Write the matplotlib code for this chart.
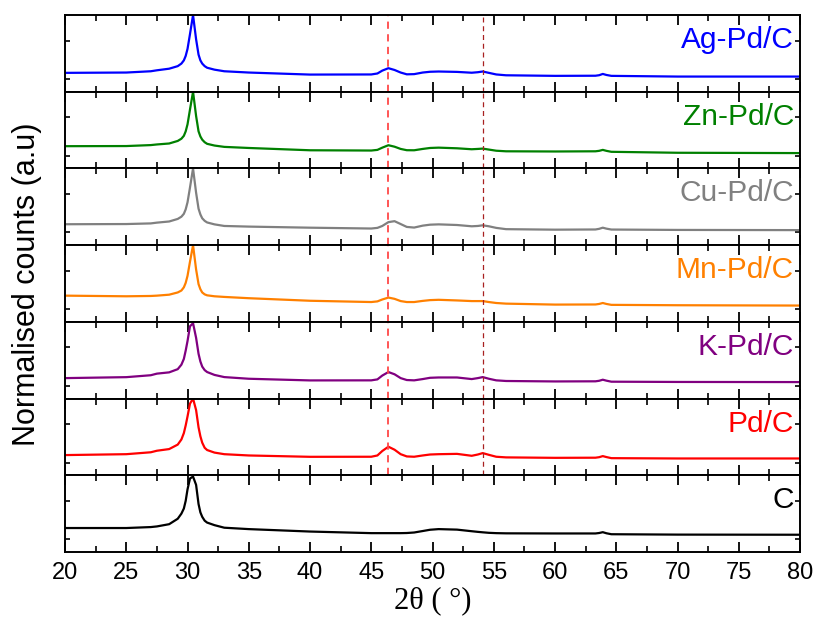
import matplotlib
matplotlib.use('Agg')
import matplotlib.pyplot as plt
from matplotlib.ticker import MultipleLocator

plt.rcParams['font.family'] = ['Liberation Sans', 'DejaVu Sans']

# 2theta sample positions
two_theta = [20, 25, 27, 27.5, 28.5, 29.2, 29.5, 29.7, 29.85, 30.0, 30.2, 30.45, 30.7, 30.9,
             31.05, 31.2, 31.4, 31.6, 32.2, 33, 35, 40, 45, 45.5, 45.9, 46.4, 46.9, 47.4,
             47.9, 48.5, 49.2, 49.8, 50.5, 52, 53.2, 53.7, 54.1, 54.6, 55.2, 56, 60, 63.3,
             63.6, 63.9, 64.2, 64.6, 70, 80]

ag_pd_c = [0.095, 0.10, 0.12, 0.135, 0.16, 0.20, 0.24, 0.29, 0.36, 0.47, 0.70, 1.0, 0.62, 0.38,
           0.29, 0.24, 0.20, 0.175, 0.145, 0.12, 0.10, 0.068, 0.07, 0.085, 0.13, 0.168, 0.14, 0.10,
           0.072, 0.075, 0.10, 0.112, 0.116, 0.11, 0.097, 0.105, 0.116, 0.095, 0.07, 0.057, 0.048, 0.05,
           0.058, 0.078, 0.062, 0.048, 0.037, 0.037]
zn_pd_c = [0.148, 0.15, 0.165, 0.175, 0.19, 0.23, 0.265, 0.31, 0.38, 0.49, 0.72, 1.0, 0.62, 0.38,
           0.30, 0.25, 0.21, 0.185, 0.158, 0.137, 0.12, 0.084, 0.08, 0.09, 0.125, 0.163, 0.14, 0.105,
           0.085, 0.084, 0.105, 0.12, 0.125, 0.115, 0.10, 0.105, 0.11, 0.095, 0.077, 0.068, 0.065, 0.068,
           0.075, 0.09, 0.075, 0.06, 0.045, 0.04]
cu_pd_c = [0.127, 0.13, 0.14, 0.152, 0.17, 0.21, 0.245, 0.29, 0.36, 0.47, 0.70, 1.0, 0.62, 0.37,
           0.28, 0.22, 0.18, 0.155, 0.125, 0.10, 0.09, 0.073, 0.06, 0.07, 0.10, 0.16, 0.175, 0.13,
           0.085, 0.075, 0.105, 0.12, 0.125, 0.115, 0.095, 0.10, 0.11, 0.095, 0.07, 0.05, 0.042, 0.045,
           0.055, 0.073, 0.058, 0.044, 0.038, 0.035]
mn_pd_c = [0.21, 0.20, 0.205, 0.21, 0.225, 0.26, 0.29, 0.34, 0.41, 0.52, 0.74, 1.0, 0.62, 0.39,
           0.31, 0.26, 0.23, 0.215, 0.20, 0.19, 0.17, 0.13, 0.11, 0.12, 0.15, 0.18, 0.16, 0.125,
           0.11, 0.11, 0.128, 0.14, 0.145, 0.135, 0.125, 0.125, 0.125, 0.11, 0.095, 0.085, 0.07, 0.072,
           0.08, 0.095, 0.08, 0.066, 0.06, 0.055]
k_pd_c = [0.12, 0.135, 0.165, 0.19, 0.21, 0.26, 0.33, 0.42, 0.55, 0.70, 0.93, 0.98, 0.75, 0.50,
          0.38, 0.30, 0.245, 0.215, 0.17, 0.136, 0.11, 0.084, 0.085, 0.10, 0.16, 0.215, 0.18, 0.12,
          0.09, 0.085, 0.105, 0.125, 0.13, 0.13, 0.105, 0.12, 0.136, 0.11, 0.085, 0.075, 0.068, 0.07,
          0.078, 0.095, 0.08, 0.064, 0.06, 0.058]
pd_c = [0.116, 0.13, 0.16, 0.184, 0.21, 0.28, 0.36, 0.46, 0.58, 0.72, 0.92, 1.0, 0.82, 0.55,
        0.41, 0.31, 0.23, 0.195, 0.155, 0.13, 0.11, 0.089, 0.09, 0.11, 0.18, 0.247, 0.20, 0.13,
        0.095, 0.09, 0.11, 0.125, 0.13, 0.135, 0.105, 0.125, 0.147, 0.12, 0.09, 0.08, 0.073, 0.075,
        0.083, 0.10, 0.085, 0.068, 0.063, 0.063]
carbon = [0.175, 0.175, 0.19, 0.20, 0.235, 0.32, 0.40, 0.48, 0.60, 0.78, 0.95, 0.98, 0.85, 0.55,
          0.42, 0.35, 0.29, 0.26, 0.22, 0.18, 0.158, 0.12, 0.095, 0.095, 0.095, 0.095, 0.095, 0.095,
          0.097, 0.105, 0.128, 0.148, 0.158, 0.15, 0.125, 0.115, 0.108, 0.10, 0.095, 0.092, 0.09, 0.09,
          0.097, 0.11, 0.093, 0.078, 0.072, 0.07]

names = ['Ag-Pd/C', 'Zn-Pd/C', 'Cu-Pd/C', 'Mn-Pd/C', 'K-Pd/C', 'Pd/C', 'C']
series = [ag_pd_c, zn_pd_c, cu_pd_c, mn_pd_c, k_pd_c, pd_c, carbon]
colors = ['#0000FF', '#008000', '#808080', '#FF8000', '#800080', '#FF0000', '#000000']

# reference peak positions (dashed lines)
ref_lines = [46.4, 54.1]

fig, axes = plt.subplots(7, 1, sharex=True, figsize=(8.19, 6.25), dpi=100,
                         gridspec_kw={'hspace': 0})
fig.subplots_adjust(left=0.0794, right=0.9768, top=0.976, bottom=0.1168)

for i, (ax, name, y, c) in enumerate(zip(axes, names, series, colors)):
    ax.plot(two_theta, y, color=c, lw=1.6)
    ax.set_xlim(20, 80)
    ax.set_ylim(-0.2, 1.0)
    ax.set_yticks([0, 0.6])
    ax.set_yticklabels([])
    ax.xaxis.set_major_locator(MultipleLocator(5))
    ax.xaxis.set_minor_locator(MultipleLocator(2.5))
    ax.tick_params(which='major', axis='x', direction='in', length=7, width=1.3,
                   top=True, bottom=True, labelsize=17, pad=7)
    ax.tick_params(which='minor', axis='x', direction='in', length=4, width=1.2,
                   top=True, bottom=True)
    ax.tick_params(axis='y', direction='in', length=3.5, width=1.2, left=True, right=True)
    for s in ax.spines.values():
        s.set_linewidth(1.4)
    ax.text(0.992, 0.57, name, transform=ax.transAxes, ha='right', va='baseline',
            fontsize=21.5, color=c)
    if i < 6:
        ax.axvline(ref_lines[0], color='#FF4848', ls=(0, (4, 3)), lw=1.3)
        ax.axvline(ref_lines[1], color='#A82020', ls=(0, (4, 3)), lw=0.9)
        ax.tick_params(axis='x', labelbottom=False)

fig.text(0.033, 0.546, 'Normalised counts (a.u)', rotation=90, ha='center', va='center',
         fontsize=22)
axes[-1].set_xlabel('2θ ( °)', fontsize=22, family='Liberation Serif', labelpad=2)

fig.savefig('out.png', dpi=100)
